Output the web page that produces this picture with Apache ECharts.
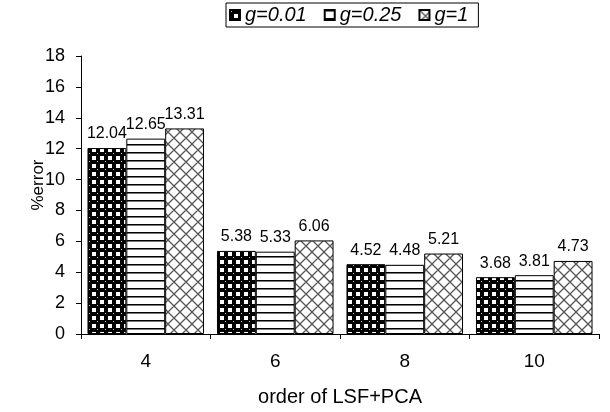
<!DOCTYPE html>
<html><head><meta charset="utf-8">
<script src="https://cdn.jsdelivr.net/npm/echarts@6/dist/echarts.min.js"></script>
<style>html,body{margin:0;padding:0;background:#fff}#c{width:610px;height:412px}</style>
</head><body><div id="c"></div>
<script>
const categories = ['4','6','8','10'];
const seriesNames = ['g=0.01','g=0.25','g=1'];
const g001 = [12.04, 5.38, 4.52, 3.68];
const g025 = [12.65, 5.33, 4.48, 3.81];
const g1 = [13.31, 6.06, 5.21, 4.73];
const yTicks = {min:0, max:18, interval:2};
const yName = '%error';
const xName = 'order of LSF+PCA';

function mk(w,h,draw){const c=document.createElement('canvas');c.width=w;c.height=h;const x=c.getContext('2d');draw(x);return c;}
const dots = mk(8,8,x=>{x.fillStyle='#fff';x.fillRect(0,0,8,8);x.fillStyle='#000';
  x.fillRect(4,0,4,4);x.fillRect(0,4,4,4);
  x.beginPath();x.arc(2,2,2.6,0,Math.PI*2);x.fill();
  x.fillStyle='#bbb';x.fillRect(1,1,1,1);});
const stripes = mk(8,8,x=>{x.fillStyle='#fff';x.fillRect(0,0,8,8);x.fillStyle='#000';x.fillRect(0,0,8,1);x.fillStyle='#777';x.fillRect(0,1,8,1);});
const hatch = mk(12,12,x=>{x.fillStyle='#fff';x.fillRect(0,0,12,12);x.strokeStyle='#555';x.lineWidth=1.3;
  x.beginPath();x.moveTo(0,0);x.lineTo(12,12);x.moveTo(-6,6);x.lineTo(6,18);x.moveTo(6,-6);x.lineTo(18,6);
  x.moveTo(12,0);x.lineTo(0,12);x.moveTo(18,6);x.lineTo(6,18);x.moveTo(6,-6);x.lineTo(-6,6);x.stroke();});
const pats=[dots,stripes,hatch];
const datas=[g001,g025,g1];
const font='Liberation Sans, Arial, sans-serif';
const chart = echarts.init(document.getElementById('c'));
chart.setOption({
  animation:false,
  textStyle:{fontFamily:font},
  legend:{left:226, top:3, padding:[2,10,2,3], itemGap:17, itemWidth:10, itemHeight:10,
    borderColor:'#000', borderWidth:1,
    textStyle:{fontStyle:'italic', fontSize:20, color:'#000', fontFamily:font},
    data:seriesNames.map(n=>({name:n, icon:'rect'}))},
  grid:{left:81, right:11, top:56, bottom:77},
  graphic:[{type:'text', x:38, y:185, rotation:Math.PI/2,
    style:{text:yName, fontSize:17, fontFamily:font, fill:'#000', textAlign:'center', textVerticalAlign:'middle'}}],
  xAxis:{type:'category', data:categories, name:xName, nameLocation:'middle', nameGap:53,
    nameTextStyle:{fontSize:20,color:'#000',fontFamily:font},
    axisLine:{lineStyle:{color:'#000'}}, axisTick:{show:true, length:5, lineStyle:{color:'#000'}},
    axisLabel:{fontSize:19,color:'#000',margin:18}},
  yAxis:{type:'value', min:yTicks.min, max:yTicks.max, interval:yTicks.interval,
    axisLine:{show:true,lineStyle:{color:'#000'}}, axisTick:{show:true,length:5,lineStyle:{color:'#000'}},
    splitLine:{show:false}, axisLabel:{fontSize:18,color:'#000',margin:16}},
  series: seriesNames.map((n,i)=>({name:n, type:'bar', data:datas[i], barGap:'0%', barCategoryGap:'10%',
    itemStyle:{color:{image:pats[i], repeat:'repeat'}, borderColor:'#000', borderWidth:1},
    label:{show:true, position:'top', fontSize:16, color:'#000', distance:6, formatter:p=>p.value.toFixed(2)}}))
});
</script></body></html>
